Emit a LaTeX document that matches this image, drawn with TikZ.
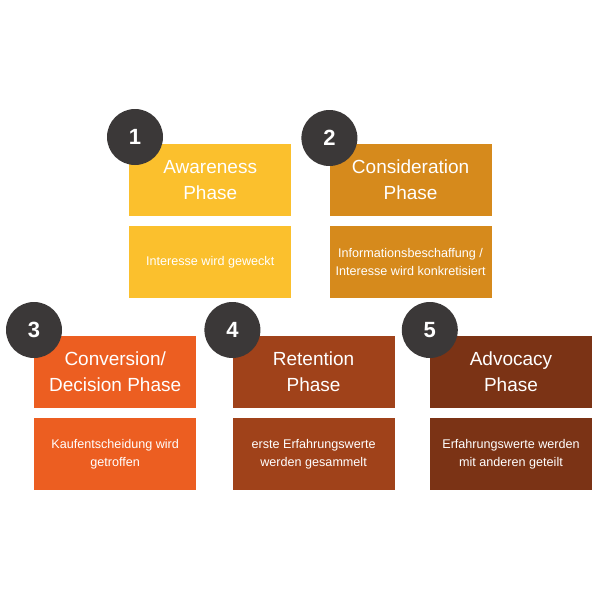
\documentclass[tikz,border=0pt]{standalone}
\usepackage{fontspec}
\setmainfont{Liberation Sans}
\usepackage{xcolor}
\usetikzlibrary{positioning}

\definecolor{awarecol}{HTML}{FBC02D}
\definecolor{considcol}{HTML}{D68A1C}
\definecolor{convcol}{HTML}{EC5E21}
\definecolor{retcol}{HTML}{A0421A}
\definecolor{advcol}{HTML}{7B3315}
\definecolor{numgray}{HTML}{3B3838}

\begin{document}
\begin{tikzpicture}[
    x=1pt, y=-1pt,
    node distance=10pt and 36pt,
    phase/.style={minimum width=162pt, minimum height=71.5pt, inner sep=0pt, align=center, text=white, font=\fontsize{19}{26}\selectfont},
    desc/.style={minimum width=162pt, minimum height=71.5pt, inner sep=0pt, align=center, text=white, font=\fontsize{12.6}{18}\selectfont},
    num/.style={circle, fill=numgray, minimum size=56pt, inner sep=0pt, text=white, font=\fontsize{22}{22}\selectfont\bfseries}
]
\useasboundingbox (0,0) rectangle (600,600);

% Upper row
\node[phase, fill=awarecol, anchor=north west] (phase1) at (129,144) {Awareness\\Phase};
\node[desc, fill=awarecol, below=of phase1] (desc1) {Interesse wird geweckt};
\node[phase, fill=considcol, right=38pt of phase1] (phase2) {Consideration\\Phase};
\node[desc, fill=considcol, below=of phase2] (desc2) {Informationsbeschaffung /\\Interesse wird konkretisiert};

% Lower row
\node[phase, fill=convcol, anchor=north west] (phase3) at (34,336) {Conversion/\\Decision Phase};
\node[desc, fill=convcol, below=of phase3] (desc3) {Kaufentscheidung wird\\getroffen};
\node[phase, fill=retcol, right=of phase3] (phase4) {Retention\\Phase};
\node[desc, fill=retcol, below=of phase4] (desc4) {erste Erfahrungswerte\\werden gesammelt};
\node[phase, fill=advcol, right=35pt of phase4] (phase5) {Advocacy\\Phase};
\node[desc, fill=advcol, below=of phase5] (desc5) {Erfahrungswerte werden\\mit anderen geteilt};

% Numbers
\node[num] (num1) at ([xshift=6pt, yshift=7pt]phase1.north west) {1};
\node[num] (num2) at ([yshift=6pt]phase2.north west) {2};
\node[num] (num3) at ([yshift=6pt]phase3.north west) {3};
\node[num] (num4) at ([yshift=6pt]phase4.north west) {4};
\node[num] (num5) at ([yshift=6pt]phase5.north west) {5};

\end{tikzpicture}
\end{document}
